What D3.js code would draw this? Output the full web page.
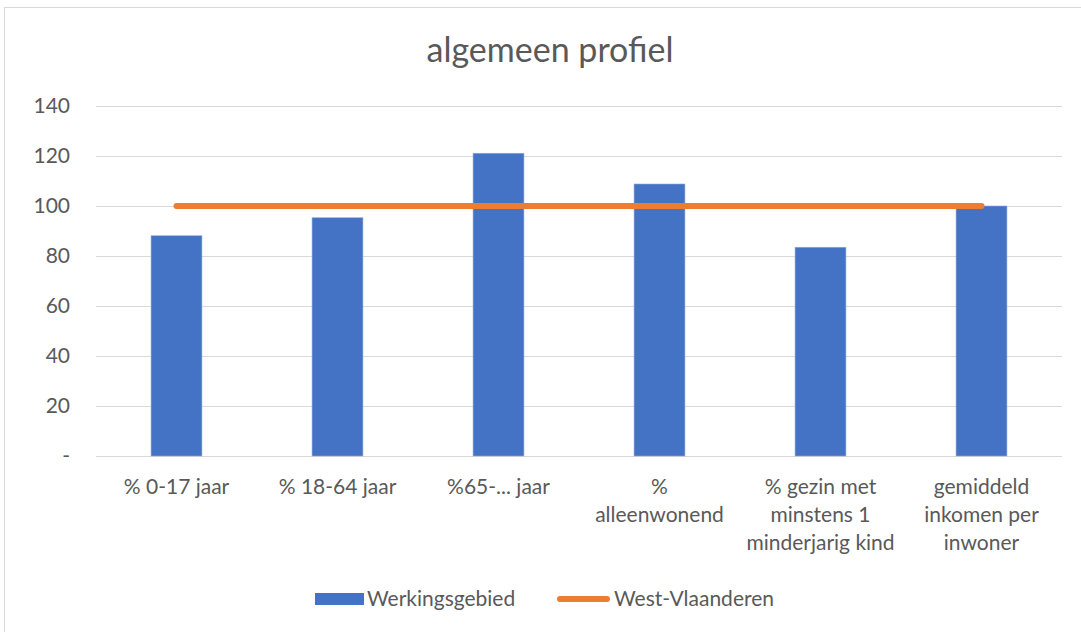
<!DOCTYPE html>
<html>
<head>
<meta charset="utf-8">
<script src="https://cdn.jsdelivr.net/npm/d3@7"></script>
<style>
  body { margin: 0; background: #fff; }
  text { font-family: Lato, "Open Sans", sans-serif; fill: #595959; }
</style>
</head>
<body>
<div class="chart"></div>
<script>
// Chart data
var categories = ["% 0-17 jaar", "% 18-64 jaar", "%65-... jaar", "%\nalleenwonend",
  "% gezin met\nminstens 1\nminderjarig kind", "gemiddeld\ninkomen per\ninwoner"];
var werkingsgebied = [88.1, 95.3, 121.1, 108.8, 83.5, 100];
var westVlaanderen = [100, 100, 100, 100, 100, 100];
var yTicks = [0, 20, 40, 60, 80, 100, 120, 140];
var seriesNames = ["Werkingsgebied", "West-Vlaanderen"];

var svgWidth = 1081;
var svgHeight = 632;
var margin = {top: 106, right: 19, bottom: 176, left: 96};
var width = svgWidth - margin.left - margin.right;
var height = svgHeight - margin.top - margin.bottom;

var svg = d3.select(".chart").append("svg")
  .attr("width", svgWidth)
  .attr("height", svgHeight);

// outer chart border
svg.append("rect")
  .attr("x", 4.5).attr("y", 7.5)
  .attr("width", svgWidth).attr("height", svgHeight)
  .attr("fill", "none").attr("stroke", "#d9d9d9");

svg.append("text")
  .attr("x", 550).attr("y", 62)
  .attr("text-anchor", "middle")
  .attr("font-size", "34px")
  .text("algemeen profiel");

var chart = svg.append("g")
  .attr("transform", "translate(" + margin.left + "," + margin.top + ")");

var x = d3.scaleBand().domain(categories).range([0, width]).paddingInner(0.684).paddingOuter(0.342);
var xc = d3.scaleBand().domain(categories).range([0, width]);
var y = d3.scaleLinear().domain([0, 140]).range([height, 0]);

// gridlines + y labels
var leftAxis = d3.axisLeft(y).tickValues(yTicks).tickSize(-width).tickPadding(26)
  .tickFormat(function(d) { return d === 0 ? "-" : d; });
var yAxis = chart.append("g").call(leftAxis);
yAxis.select(".domain").remove();
yAxis.selectAll(".tick line").attr("stroke", "#d9d9d9").attr("stroke-width", 1.2);
yAxis.selectAll(".tick text").attr("font-size", "21px").attr("fill", "#595959")
  .attr("font-family", "Lato, sans-serif");

// bars
chart.selectAll(".bar")
  .data(werkingsgebied)
  .enter().append("rect")
  .attr("class", "bar")
  .attr("x", function(d, i) { return x(categories[i]); })
  .attr("width", x.bandwidth())
  .attr("y", function(d) { return y(d); })
  .attr("height", function(d) { return height - y(d); })
  .attr("fill", "#4472c4")
  .attr("stroke", "#8faadc").attr("stroke-width", 0.6);

// line
var line = d3.line()
  .x(function(d, i) { return xc(categories[i]) + xc.bandwidth() / 2; })
  .y(function(d) { return y(d); });
chart.append("path")
  .datum(westVlaanderen)
  .attr("d", line)
  .attr("fill", "none")
  .attr("stroke", "#ed7d31")
  .attr("stroke-width", 6)
  .attr("stroke-linecap", "round");

// x labels
var xLabels = chart.selectAll(".xlab")
  .data(categories)
  .enter().append("text")
  .attr("class", "xlab")
  .attr("text-anchor", "middle")
  .attr("font-size", "21px")
  .attr("transform", function(d) {
    return "translate(" + (xc(d) + xc.bandwidth() / 2) + "," + (height + 38) + ")";
  });
xLabels.selectAll("tspan")
  .data(function(d) { return d.split("\n"); })
  .enter().append("tspan")
  .attr("x", 0)
  .attr("dy", function(d, i) { return i === 0 ? 0 : 28; })
  .text(function(d) { return d; });

// legend
var legend = svg.append("g").attr("transform", "translate(0,599)");
legend.append("rect")
  .attr("x", 315).attr("y", -6).attr("width", 49).attr("height", 12)
  .attr("fill", "#4472c4");
legend.append("text")
  .attr("x", 367).attr("y", 7).attr("font-size", "21px")
  .text(seriesNames[0]);
legend.append("line")
  .attr("x1", 560).attr("x2", 607).attr("y1", 0).attr("y2", 0)
  .attr("stroke", "#ed7d31").attr("stroke-width", 6).attr("stroke-linecap", "round");
legend.append("text")
  .attr("x", 614).attr("y", 7).attr("font-size", "21px")
  .text(seriesNames[1]);
</script>
</body>
</html>
